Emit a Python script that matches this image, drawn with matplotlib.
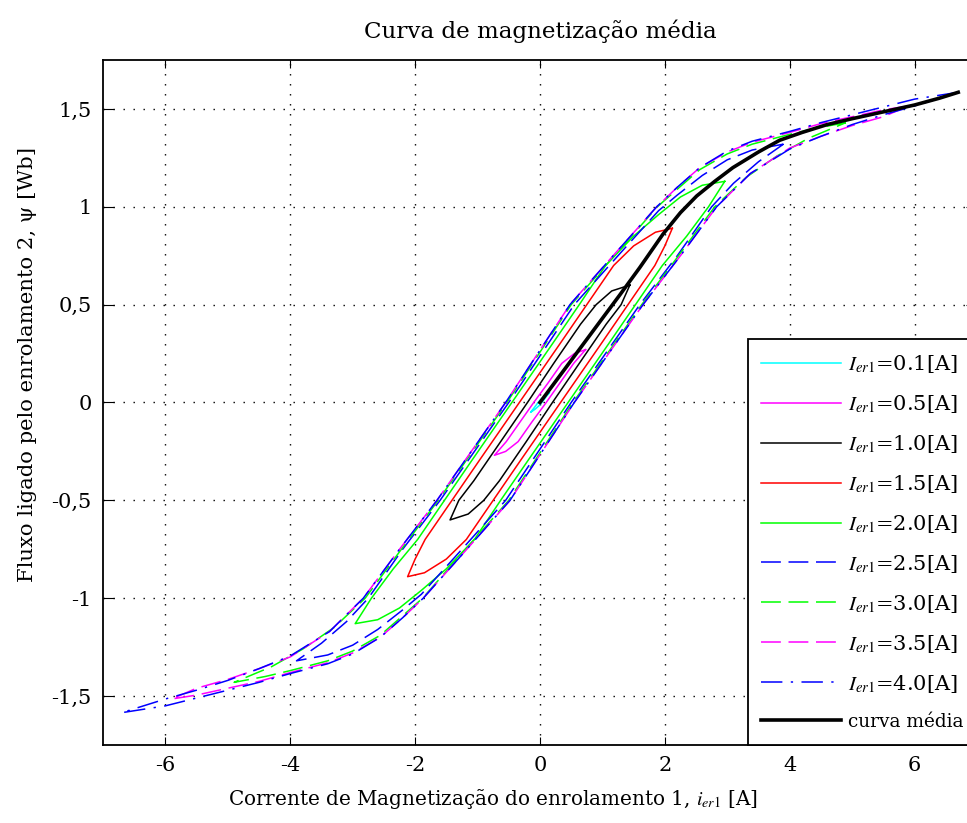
import matplotlib
matplotlib.use("Agg")
import matplotlib.pyplot as plt

plt.rcParams["font.family"] = ["DejaVu Serif"]
plt.rcParams["mathtext.fontset"] = "stix"
plt.rcParams["axes.unicode_minus"] = False

# hysteresis loops: descending branch then ascending branch
loop01_i = [0.15, 0.08, 0.0, -0.03, -0.1, -0.15, -0.08, 0.0, 0.03, 0.1, 0.15]
loop01_psi = [0.05, 0.035, 0.012, 0.0, -0.03, -0.05, -0.035, -0.012, 0.0, 0.03, 0.05]

loop05_i = [0.73, 0.55, 0.35, 0.13, -0.1, -0.32, -0.54, -0.73, -0.55, -0.35, -0.13, 0.1, 0.32, 0.54, 0.73]
loop05_psi = [0.27, 0.25, 0.2, 0.1, 0.0, -0.1, -0.2, -0.27, -0.25, -0.2, -0.1, 0.0, 0.1, 0.2, 0.27]

loop10_i = [1.44, 1.15, 0.9, 0.65, 0.22, -0.2, -0.63, -1.06, -1.3, -1.44,
            -1.15, -0.9, -0.65, -0.22, 0.2, 0.63, 1.06, 1.3, 1.44]
loop10_psi = [0.6, 0.57, 0.5, 0.4, 0.2, 0.0, -0.2, -0.4, -0.5, -0.6,
              -0.57, -0.5, -0.4, -0.2, 0.0, 0.2, 0.4, 0.5, 0.6]

loop15_i = [2.12, 1.85, 1.5, 1.18, 0.75, 0.32, -0.33, -0.98, -1.41, -1.84, -2.0, -2.12,
            -1.85, -1.5, -1.18, -0.75, -0.32, 0.33, 0.98, 1.41, 1.84, 2.0, 2.12]
loop15_psi = [0.89, 0.87, 0.8, 0.7, 0.5, 0.3, 0.0, -0.3, -0.5, -0.7, -0.8, -0.89,
              -0.87, -0.8, -0.7, -0.5, -0.3, 0.0, 0.3, 0.5, 0.7, 0.8, 0.89]

loop20_i = [2.96, 2.6, 2.25, 1.9, 1.5, 1.05, 0.63, 0.2, -0.45, -1.1, -1.53, -1.96, -2.35, -2.7, -2.96,
            -2.6, -2.25, -1.9, -1.5, -1.05, -0.63, -0.2, 0.45, 1.1, 1.53, 1.96, 2.35, 2.7, 2.96]
loop20_psi = [1.13, 1.11, 1.05, 0.96, 0.85, 0.7, 0.5, 0.3, 0.0, -0.3, -0.5, -0.7, -0.85, -1.0, -1.13,
              -1.11, -1.05, -0.96, -0.85, -0.7, -0.5, -0.3, 0.0, 0.3, 0.5, 0.7, 0.85, 1.0, 1.13]

loop25_i = [3.9, 3.4, 3.0, 2.6, 2.2, 1.9, 1.25, 0.55, -0.5, -1.6, -2.2, -2.75, -3.1, -3.5, -3.9,
            -3.4, -3.0, -2.6, -2.2, -1.9, -1.25, -0.55, 0.5, 1.6, 2.2, 2.75, 3.1, 3.5, 3.9]
loop25_psi = [1.32, 1.29, 1.24, 1.16, 1.06, 0.98, 0.75, 0.5, 0.0, -0.5, -0.75, -1.0, -1.12, -1.23, -1.32,
              -1.29, -1.24, -1.16, -1.06, -0.98, -0.75, -0.5, 0.0, 0.5, 0.75, 1.0, 1.12, 1.23, 1.32]

loop30_i = [4.9, 4.4, 4.0, 3.4, 3.0, 2.56, 2.2, 1.88, 1.22, 0.5, -0.53, -1.63, -2.22, -2.8, -3.3, -3.8, -4.3, -4.9,
            -4.4, -4.0, -3.4, -3.0, -2.56, -2.2, -1.88, -1.22, -0.5, 0.53, 1.63, 2.22, 2.8, 3.3, 3.8, 4.3, 4.9]
loop30_psi = [1.43, 1.4, 1.37, 1.32, 1.27, 1.19, 1.09, 1.0, 0.76, 0.5, 0.0, -0.5, -0.75, -1.0, -1.15, -1.26, -1.35, -1.43,
              -1.4, -1.37, -1.32, -1.27, -1.19, -1.09, -1.0, -0.76, -0.5, 0.0, 0.5, 0.75, 1.0, 1.15, 1.26, 1.35, 1.43]

loop35_i = [5.9, 5.5, 5.0, 4.5, 4.0, 3.4, 3.0, 2.56, 2.2, 1.87, 1.2, 0.48, -0.55, -1.65, -2.25, -2.83, -3.37,
            -4.0, -4.5, -5.0, -5.5, -5.9,
            -5.5, -5.0, -4.5, -4.0, -3.4, -3.0, -2.56, -2.2, -1.87, -1.2, -0.48, 0.55, 1.65, 2.25, 2.83, 3.37,
            4.0, 4.5, 5.0, 5.5, 5.9]
loop35_psi = [1.515, 1.495, 1.46, 1.425, 1.38, 1.33, 1.28, 1.2, 1.1, 1.0, 0.76, 0.5, 0.0, -0.5, -0.75, -1.0, -1.17,
              -1.3, -1.36, -1.415, -1.46, -1.515,
              -1.495, -1.46, -1.425, -1.38, -1.33, -1.28, -1.2, -1.1, -1.0, -0.76, -0.5, 0.0, 0.5, 0.75, 1.0, 1.17,
              1.3, 1.36, 1.415, 1.46, 1.515]

loop40_i = [6.7, 6.0, 5.5, 5.0, 4.5, 4.0, 3.4, 3.0, 2.56, 2.2, 1.87, 1.2, 0.48, -0.55, -1.65, -2.25, -2.83, -3.37,
            -4.0, -4.5, -5.0, -5.5, -6.0, -6.7,
            -6.0, -5.5, -5.0, -4.5, -4.0, -3.4, -3.0, -2.56, -2.2, -1.87, -1.2, -0.48, 0.55, 1.65, 2.25, 2.83, 3.37,
            4.0, 4.5, 5.0, 5.5, 6.0, 6.7]
loop40_psi = [1.585, 1.55, 1.51, 1.47, 1.43, 1.385, 1.335, 1.285, 1.2, 1.1, 1.0, 0.76, 0.5, 0.0, -0.5, -0.75, -1.0, -1.17,
              -1.295, -1.36, -1.42, -1.47, -1.515, -1.585,
              -1.55, -1.51, -1.47, -1.43, -1.385, -1.335, -1.285, -1.2, -1.1, -1.0, -0.76, -0.5, 0.0, 0.5, 0.75, 1.0, 1.17,
              1.295, 1.36, 1.42, 1.47, 1.515, 1.585]

# average magnetization curve
mean_i = [0.0, 0.5, 1.0, 1.28, 1.6, 1.97, 2.25, 2.51, 2.8, 3.09, 3.5, 3.84, 4.2, 4.6, 5.0, 5.5, 6.0, 6.4, 6.7]
mean_psi = [0.0, 0.215, 0.43, 0.55, 0.69, 0.86, 0.97, 1.055, 1.13, 1.2, 1.28, 1.34, 1.38, 1.42, 1.45, 1.485, 1.52, 1.555, 1.585]

amplitudes = ["0.1", "0.5", "1.0", "1.5", "2.0", "2.5", "3.0", "3.5", "4.0"]
xticks = [-6, -4, -2, 0, 2, 4, 6]
xtick_labels = ["-6", "-4", "-2", "0", "2", "4", "6"]
yticks = [-1.5, -1, -0.5, 0, 0.5, 1, 1.5]
ytick_labels = ["-1,5", "-1", "-0,5", "0", "0,5", "1", "1,5"]

loops = [
    (loop01_i, loop01_psi, "#00ffff", "-"),
    (loop05_i, loop05_psi, "#ff00ff", "-"),
    (loop10_i, loop10_psi, "#000000", "-"),
    (loop15_i, loop15_psi, "#ff0000", "-"),
    (loop20_i, loop20_psi, "#00ff00", "-"),
    (loop25_i, loop25_psi, "#0000ff", (0, (13, 5))),
    (loop30_i, loop30_psi, "#00ff00", (0, (13, 5))),
    (loop35_i, loop35_psi, "#ff00ff", (0, (13, 5))),
    (loop40_i, loop40_psi, "#0000ff", (0, (14, 5.5, 1.5, 5.5))),
]

fig = plt.figure(figsize=(9.67, 8.23), dpi=100)
ax = fig.add_axes([0.1065, 0.0948, 0.9038, 0.8323])

for (xi, yi, color, ls), amp in zip(loops, amplitudes):
    ax.plot(xi, yi, color=color, linestyle=ls, linewidth=1.1,
            label=r"$I_{er1}$=" + amp + "[A]")
ax.plot(mean_i, mean_psi, color="black", linewidth=2.6, label="curva média")

ax.set_xlim(-7, 7)
ax.set_ylim(-1.75, 1.75)
ax.set_xticks(xticks)
ax.set_xticklabels(xtick_labels)
ax.set_yticks(yticks)
ax.set_yticklabels(ytick_labels)
ax.tick_params(direction="in", top=True, right=True, labelsize=15, pad=8)
ax.tick_params(axis="x", length=6)
ax.tick_params(axis="y", length=8)
ax.grid(True, color="black", linestyle=(0, (1, 6.2)), linewidth=1.0)
for sp in ax.spines.values():
    sp.set_linewidth(1.3)

ax.set_title("Curva de magnetização média", fontsize=16.6, pad=16)
ax.set_xlabel(r"Corrente de Magnetização do enrolamento 1, $i_{er1}$ [A]", fontsize=14.4)
ax.xaxis.set_label_coords(0.446, -0.062)
ax.set_ylabel("Fluxo ligado pelo enrolamento 2, ψ [Wb]", fontsize=15.2)
ax.yaxis.set_label_coords(-0.0755, 0.555)

leg = ax.legend(loc="lower right", fontsize=15, borderaxespad=0, fancybox=False,
                edgecolor="black", framealpha=1, handlelength=3.84, handletextpad=0.29,
                labelspacing=0.86, borderpad=0.67)
leg.get_texts()[-1].set_fontsize(13.3)
leg.get_frame().set_linewidth(1.3)

fig.savefig("out.png", dpi=100)
